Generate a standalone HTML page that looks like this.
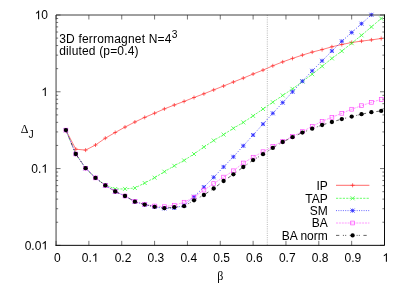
<!DOCTYPE html><html><head><meta charset="utf-8"><style>html,body{margin:0;padding:0;background:#fff}svg{display:block;will-change:transform;opacity:0.999}text{font-family:"Liberation Sans",sans-serif;font-size:12px;fill:#000}</style></head><body>
<svg width="407" height="285" viewBox="0 0 407 285">
<rect width="407" height="285" fill="#fff"/>
<defs><clipPath id="c"><rect x="56.05" y="14.5" width="328.45" height="230.85"/></clipPath></defs>
<line x1="267.3" y1="15.0" x2="267.3" y2="245.35" stroke="#888" stroke-width="0.6" stroke-dasharray="1 1.2"/>
<path d="M56.05,245.35v-4.5M56.05,15.0v4.5 M88.89,245.35v-4.5M88.89,15.0v4.5 M121.74,245.35v-4.5M121.74,15.0v4.5 M154.58,245.35v-4.5M154.58,15.0v4.5 M187.43,245.35v-4.5M187.43,15.0v4.5 M220.27,245.35v-4.5M220.27,15.0v4.5 M253.12,245.35v-4.5M253.12,15.0v4.5 M285.96,245.35v-4.5M285.96,15.0v4.5 M318.81,245.35v-4.5M318.81,15.0v4.5 M351.66,245.35v-4.5M351.66,15.0v4.5 M384.50,245.35v-4.5M384.50,15.0v4.5 M56.05,245.35h4.5M384.5,245.35h-4.5 M56.05,222.24h2.1M384.5,222.24h-2.1 M56.05,208.72h2.1M384.5,208.72h-2.1 M56.05,199.12h2.1M384.5,199.12h-2.1 M56.05,191.68h2.1M384.5,191.68h-2.1 M56.05,185.60h2.1M384.5,185.60h-2.1 M56.05,180.46h2.1M384.5,180.46h-2.1 M56.05,176.01h2.1M384.5,176.01h-2.1 M56.05,172.08h2.1M384.5,172.08h-2.1 M56.05,168.57h4.5M384.5,168.57h-4.5 M56.05,145.45h2.1M384.5,145.45h-2.1 M56.05,131.93h2.1M384.5,131.93h-2.1 M56.05,122.34h2.1M384.5,122.34h-2.1 M56.05,114.90h2.1M384.5,114.90h-2.1 M56.05,108.82h2.1M384.5,108.82h-2.1 M56.05,103.68h2.1M384.5,103.68h-2.1 M56.05,99.22h2.1M384.5,99.22h-2.1 M56.05,95.30h2.1M384.5,95.30h-2.1 M56.05,91.78h4.5M384.5,91.78h-4.5 M56.05,68.67h2.1M384.5,68.67h-2.1 M56.05,55.15h2.1M384.5,55.15h-2.1 M56.05,45.56h2.1M384.5,45.56h-2.1 M56.05,38.11h2.1M384.5,38.11h-2.1 M56.05,32.03h2.1M384.5,32.03h-2.1 M56.05,26.89h2.1M384.5,26.89h-2.1 M56.05,22.44h2.1M384.5,22.44h-2.1 M56.05,18.51h2.1M384.5,18.51h-2.1 M56.05,15.00h4.5M384.5,15.00h-4.5" stroke="#2a2a2a" stroke-width="0.65" fill="none"/>
<polyline clip-path="url(#c)" fill="none" points="65.9,130.2 75.8,149.2 85.6,150.1 95.5,145.0 105.3,138.2 115.2,132.5 125.0,127.1 134.9,122.0 144.7,117.4 154.6,113.2 164.4,108.9 174.3,105.0 184.1,101.4 194.0,97.5 203.9,93.8 213.7,89.9 223.6,86.0 233.4,82.0 243.3,78.1 253.1,74.0 263.0,70.1 272.8,65.8 282.7,61.9 292.5,58.4 302.4,55.1 312.2,52.1 322.1,49.6 331.9,46.8 341.8,44.5 351.7,42.5 361.5,41.1 371.4,39.9 381.2,38.5" stroke="#ff2a2a" stroke-width="0.62"/>
<path d="M63.9,130.2h4.0M65.9,128.2v4.0 M73.8,149.2h4.0M75.8,147.2v4.0 M83.6,150.1h4.0M85.6,148.1v4.0 M93.5,145.0h4.0M95.5,143.0v4.0 M103.3,138.2h4.0M105.3,136.2v4.0 M113.2,132.5h4.0M115.2,130.5v4.0 M123.0,127.1h4.0M125.0,125.1v4.0 M132.9,122.0h4.0M134.9,120.0v4.0 M142.7,117.4h4.0M144.7,115.4v4.0 M152.6,113.2h4.0M154.6,111.2v4.0 M162.4,108.9h4.0M164.4,106.9v4.0 M172.3,105.0h4.0M174.3,103.0v4.0 M182.1,101.4h4.0M184.1,99.4v4.0 M192.0,97.5h4.0M194.0,95.5v4.0 M201.9,93.8h4.0M203.9,91.8v4.0 M211.7,89.9h4.0M213.7,87.9v4.0 M221.6,86.0h4.0M223.6,84.0v4.0 M231.4,82.0h4.0M233.4,80.0v4.0 M241.3,78.1h4.0M243.3,76.1v4.0 M251.1,74.0h4.0M253.1,72.0v4.0 M261.0,70.1h4.0M263.0,68.1v4.0 M270.8,65.8h4.0M272.8,63.8v4.0 M280.7,61.9h4.0M282.7,59.9v4.0 M290.5,58.4h4.0M292.5,56.4v4.0 M300.4,55.1h4.0M302.4,53.1v4.0 M310.2,52.1h4.0M312.2,50.1v4.0 M320.1,49.6h4.0M322.1,47.6v4.0 M329.9,46.8h4.0M331.9,44.8v4.0 M339.8,44.5h4.0M341.8,42.5v4.0 M349.7,42.5h4.0M351.7,40.5v4.0 M359.5,41.1h4.0M361.5,39.1v4.0 M369.4,39.9h4.0M371.4,37.9v4.0 M379.2,38.5h4.0M381.2,36.5v4.0" stroke="#ff2a2a" stroke-width="0.7" fill="none"/>
<polyline clip-path="url(#c)" fill="none" points="65.9,130.1 75.8,154.0 85.6,168.2 95.5,177.9 105.3,185.0 115.2,189.0 125.0,188.9 134.9,188.0 144.7,183.0 154.6,177.7 164.4,171.7 174.3,165.8 184.1,160.4 194.0,154.0 203.9,147.0 213.7,140.5 223.6,134.6 233.4,128.3 243.3,122.4 253.1,115.9 263.0,109.0 272.8,102.2 282.7,95.4 292.5,88.9 302.4,81.5 312.2,74.2 322.1,66.3 331.9,58.4 341.8,51.1 351.7,43.2 361.5,35.3 371.4,26.9 381.2,18.5" stroke="#2aff2a" stroke-width="0.7" stroke-dasharray="2.2 1.2"/>
<path d="M63.9,128.1l4.0,4.0M63.9,132.1l4.0,-4.0 M73.8,152.0l4.0,4.0M73.8,156.0l4.0,-4.0 M83.6,166.2l4.0,4.0M83.6,170.2l4.0,-4.0 M93.5,175.9l4.0,4.0M93.5,179.9l4.0,-4.0 M103.3,183.0l4.0,4.0M103.3,187.0l4.0,-4.0 M113.2,187.0l4.0,4.0M113.2,191.0l4.0,-4.0 M123.0,186.9l4.0,4.0M123.0,190.9l4.0,-4.0 M132.9,186.0l4.0,4.0M132.9,190.0l4.0,-4.0 M142.7,181.0l4.0,4.0M142.7,185.0l4.0,-4.0 M152.6,175.7l4.0,4.0M152.6,179.7l4.0,-4.0 M162.4,169.7l4.0,4.0M162.4,173.7l4.0,-4.0 M172.3,163.8l4.0,4.0M172.3,167.8l4.0,-4.0 M182.1,158.4l4.0,4.0M182.1,162.4l4.0,-4.0 M192.0,152.0l4.0,4.0M192.0,156.0l4.0,-4.0 M201.9,145.0l4.0,4.0M201.9,149.0l4.0,-4.0 M211.7,138.5l4.0,4.0M211.7,142.5l4.0,-4.0 M221.6,132.6l4.0,4.0M221.6,136.6l4.0,-4.0 M231.4,126.3l4.0,4.0M231.4,130.3l4.0,-4.0 M241.3,120.4l4.0,4.0M241.3,124.4l4.0,-4.0 M251.1,113.9l4.0,4.0M251.1,117.9l4.0,-4.0 M261.0,107.0l4.0,4.0M261.0,111.0l4.0,-4.0 M270.8,100.2l4.0,4.0M270.8,104.2l4.0,-4.0 M280.7,93.4l4.0,4.0M280.7,97.4l4.0,-4.0 M290.5,86.9l4.0,4.0M290.5,90.9l4.0,-4.0 M300.4,79.5l4.0,4.0M300.4,83.5l4.0,-4.0 M310.2,72.2l4.0,4.0M310.2,76.2l4.0,-4.0 M320.1,64.3l4.0,4.0M320.1,68.3l4.0,-4.0 M329.9,56.4l4.0,4.0M329.9,60.4l4.0,-4.0 M339.8,49.1l4.0,4.0M339.8,53.1l4.0,-4.0 M349.7,41.2l4.0,4.0M349.7,45.2l4.0,-4.0 M359.5,33.3l4.0,4.0M359.5,37.3l4.0,-4.0 M369.4,24.9l4.0,4.0M369.4,28.9l4.0,-4.0 M379.2,16.5l4.0,4.0M379.2,20.5l4.0,-4.0" stroke="#2aff2a" stroke-width="0.7" fill="none"/>
<polyline clip-path="url(#c)" fill="none" points="65.9,130.1 75.8,154.0 85.6,168.2 95.5,177.9 105.3,185.4 115.2,191.5 125.0,196.0 134.9,201.7 144.7,204.6 154.6,206.8 164.4,208.4 174.3,208.0 184.1,205.4 194.0,196.7 203.9,187.1 213.7,177.3 223.6,166.9 233.4,156.8 243.3,145.8 253.1,135.0 263.0,124.1 272.8,113.3 282.7,102.6 292.5,91.8 302.4,81.2 312.2,70.8 322.1,60.8 331.9,51.0 341.8,41.3 351.7,32.5 361.5,23.7 371.4,14.8 381.2,5.0" stroke="#2020ff" stroke-width="0.75" stroke-dasharray="1.1 1.8"/>
<path d="M63.9,130.1h4.0M65.9,128.1v4.0M63.9,128.1l4.0,4.0M63.9,132.1l4.0,-4.0 M73.8,154.0h4.0M75.8,152.0v4.0M73.8,152.0l4.0,4.0M73.8,156.0l4.0,-4.0 M83.6,168.2h4.0M85.6,166.2v4.0M83.6,166.2l4.0,4.0M83.6,170.2l4.0,-4.0 M93.5,177.9h4.0M95.5,175.9v4.0M93.5,175.9l4.0,4.0M93.5,179.9l4.0,-4.0 M103.3,185.4h4.0M105.3,183.4v4.0M103.3,183.4l4.0,4.0M103.3,187.4l4.0,-4.0 M113.2,191.5h4.0M115.2,189.5v4.0M113.2,189.5l4.0,4.0M113.2,193.5l4.0,-4.0 M123.0,196.0h4.0M125.0,194.0v4.0M123.0,194.0l4.0,4.0M123.0,198.0l4.0,-4.0 M132.9,201.7h4.0M134.9,199.7v4.0M132.9,199.7l4.0,4.0M132.9,203.7l4.0,-4.0 M142.7,204.6h4.0M144.7,202.6v4.0M142.7,202.6l4.0,4.0M142.7,206.6l4.0,-4.0 M152.6,206.8h4.0M154.6,204.8v4.0M152.6,204.8l4.0,4.0M152.6,208.8l4.0,-4.0 M162.4,208.4h4.0M164.4,206.4v4.0M162.4,206.4l4.0,4.0M162.4,210.4l4.0,-4.0 M172.3,208.0h4.0M174.3,206.0v4.0M172.3,206.0l4.0,4.0M172.3,210.0l4.0,-4.0 M182.1,205.4h4.0M184.1,203.4v4.0M182.1,203.4l4.0,4.0M182.1,207.4l4.0,-4.0 M192.0,196.7h4.0M194.0,194.7v4.0M192.0,194.7l4.0,4.0M192.0,198.7l4.0,-4.0 M201.9,187.1h4.0M203.9,185.1v4.0M201.9,185.1l4.0,4.0M201.9,189.1l4.0,-4.0 M211.7,177.3h4.0M213.7,175.3v4.0M211.7,175.3l4.0,4.0M211.7,179.3l4.0,-4.0 M221.6,166.9h4.0M223.6,164.9v4.0M221.6,164.9l4.0,4.0M221.6,168.9l4.0,-4.0 M231.4,156.8h4.0M233.4,154.8v4.0M231.4,154.8l4.0,4.0M231.4,158.8l4.0,-4.0 M241.3,145.8h4.0M243.3,143.8v4.0M241.3,143.8l4.0,4.0M241.3,147.8l4.0,-4.0 M251.1,135.0h4.0M253.1,133.0v4.0M251.1,133.0l4.0,4.0M251.1,137.0l4.0,-4.0 M261.0,124.1h4.0M263.0,122.1v4.0M261.0,122.1l4.0,4.0M261.0,126.1l4.0,-4.0 M270.8,113.3h4.0M272.8,111.3v4.0M270.8,111.3l4.0,4.0M270.8,115.3l4.0,-4.0 M280.7,102.6h4.0M282.7,100.6v4.0M280.7,100.6l4.0,4.0M280.7,104.6l4.0,-4.0 M290.5,91.8h4.0M292.5,89.8v4.0M290.5,89.8l4.0,4.0M290.5,93.8l4.0,-4.0 M300.4,81.2h4.0M302.4,79.2v4.0M300.4,79.2l4.0,4.0M300.4,83.2l4.0,-4.0 M310.2,70.8h4.0M312.2,68.8v4.0M310.2,68.8l4.0,4.0M310.2,72.8l4.0,-4.0 M320.1,60.8h4.0M322.1,58.8v4.0M320.1,58.8l4.0,4.0M320.1,62.8l4.0,-4.0 M329.9,51.0h4.0M331.9,49.0v4.0M329.9,49.0l4.0,4.0M329.9,53.0l4.0,-4.0 M339.8,41.3h4.0M341.8,39.3v4.0M339.8,39.3l4.0,4.0M339.8,43.3l4.0,-4.0 M349.7,32.5h4.0M351.7,30.5v4.0M349.7,30.5l4.0,4.0M349.7,34.5l4.0,-4.0 M359.5,23.7h4.0M361.5,21.7v4.0M359.5,21.7l4.0,4.0M359.5,25.7l4.0,-4.0 M369.4,14.8h4.0M371.4,12.8v4.0M369.4,12.8l4.0,4.0M369.4,16.8l4.0,-4.0" stroke="#2a2aff" stroke-width="0.8" fill="none"/>
<polyline clip-path="url(#c)" fill="none" points="65.9,130.1 75.8,154.0 85.6,168.2 95.5,177.9 105.3,185.4 115.2,191.5 125.0,196.0 134.9,201.5 144.7,204.3 154.6,206.0 164.4,206.7 174.3,205.2 184.1,202.2 194.0,197.3 203.9,190.1 213.7,183.6 223.6,177.1 233.4,170.8 243.3,163.0 253.1,157.2 263.0,151.7 272.8,146.3 282.7,141.3 292.5,136.5 302.4,131.6 312.2,126.3 322.1,121.3 331.9,117.3 341.8,113.3 351.7,109.2 361.5,105.7 371.4,102.3 381.2,99.4" stroke="#ff40ff" stroke-width="0.55" stroke-dasharray="2 0.9"/>
<rect x="64.0" y="128.2" width="3.8" height="3.8" stroke="#ff40ff" stroke-width="0.65" fill="none"/>
<rect x="73.9" y="152.1" width="3.8" height="3.8" stroke="#ff40ff" stroke-width="0.65" fill="none"/>
<rect x="83.7" y="166.3" width="3.8" height="3.8" stroke="#ff40ff" stroke-width="0.65" fill="none"/>
<rect x="93.6" y="176.0" width="3.8" height="3.8" stroke="#ff40ff" stroke-width="0.65" fill="none"/>
<rect x="103.4" y="183.5" width="3.8" height="3.8" stroke="#ff40ff" stroke-width="0.65" fill="none"/>
<rect x="113.3" y="189.6" width="3.8" height="3.8" stroke="#ff40ff" stroke-width="0.65" fill="none"/>
<rect x="123.1" y="194.1" width="3.8" height="3.8" stroke="#ff40ff" stroke-width="0.65" fill="none"/>
<rect x="133.0" y="199.6" width="3.8" height="3.8" stroke="#ff40ff" stroke-width="0.65" fill="none"/>
<rect x="142.8" y="202.4" width="3.8" height="3.8" stroke="#ff40ff" stroke-width="0.65" fill="none"/>
<rect x="152.7" y="204.1" width="3.8" height="3.8" stroke="#ff40ff" stroke-width="0.65" fill="none"/>
<rect x="162.5" y="204.8" width="3.8" height="3.8" stroke="#ff40ff" stroke-width="0.65" fill="none"/>
<rect x="172.4" y="203.3" width="3.8" height="3.8" stroke="#ff40ff" stroke-width="0.65" fill="none"/>
<rect x="182.2" y="200.3" width="3.8" height="3.8" stroke="#ff40ff" stroke-width="0.65" fill="none"/>
<rect x="192.1" y="195.4" width="3.8" height="3.8" stroke="#ff40ff" stroke-width="0.65" fill="none"/>
<rect x="202.0" y="188.2" width="3.8" height="3.8" stroke="#ff40ff" stroke-width="0.65" fill="none"/>
<rect x="211.8" y="181.7" width="3.8" height="3.8" stroke="#ff40ff" stroke-width="0.65" fill="none"/>
<rect x="221.7" y="175.2" width="3.8" height="3.8" stroke="#ff40ff" stroke-width="0.65" fill="none"/>
<rect x="231.5" y="168.9" width="3.8" height="3.8" stroke="#ff40ff" stroke-width="0.65" fill="none"/>
<rect x="241.4" y="161.1" width="3.8" height="3.8" stroke="#ff40ff" stroke-width="0.65" fill="none"/>
<rect x="251.2" y="155.3" width="3.8" height="3.8" stroke="#ff40ff" stroke-width="0.65" fill="none"/>
<rect x="261.1" y="149.8" width="3.8" height="3.8" stroke="#ff40ff" stroke-width="0.65" fill="none"/>
<rect x="270.9" y="144.4" width="3.8" height="3.8" stroke="#ff40ff" stroke-width="0.65" fill="none"/>
<rect x="280.8" y="139.4" width="3.8" height="3.8" stroke="#ff40ff" stroke-width="0.65" fill="none"/>
<rect x="290.6" y="134.6" width="3.8" height="3.8" stroke="#ff40ff" stroke-width="0.65" fill="none"/>
<rect x="300.5" y="129.7" width="3.8" height="3.8" stroke="#ff40ff" stroke-width="0.65" fill="none"/>
<rect x="310.3" y="124.4" width="3.8" height="3.8" stroke="#ff40ff" stroke-width="0.65" fill="none"/>
<rect x="320.2" y="119.4" width="3.8" height="3.8" stroke="#ff40ff" stroke-width="0.65" fill="none"/>
<rect x="330.0" y="115.4" width="3.8" height="3.8" stroke="#ff40ff" stroke-width="0.65" fill="none"/>
<rect x="339.9" y="111.4" width="3.8" height="3.8" stroke="#ff40ff" stroke-width="0.65" fill="none"/>
<rect x="349.8" y="107.3" width="3.8" height="3.8" stroke="#ff40ff" stroke-width="0.65" fill="none"/>
<rect x="359.6" y="103.8" width="3.8" height="3.8" stroke="#ff40ff" stroke-width="0.65" fill="none"/>
<rect x="369.5" y="100.4" width="3.8" height="3.8" stroke="#ff40ff" stroke-width="0.65" fill="none"/>
<rect x="379.3" y="97.5" width="3.8" height="3.8" stroke="#ff40ff" stroke-width="0.65" fill="none"/>
<polyline clip-path="url(#c)" fill="none" points="65.9,130.1 75.8,154.0 85.6,168.2 95.5,177.9 105.3,185.4 115.2,191.5 125.0,196.0 134.9,201.7 144.7,204.6 154.6,206.8 164.4,208.2 174.3,207.2 184.1,206.2 194.0,200.3 203.9,195.0 213.7,188.5 223.6,181.0 233.4,174.3 243.3,167.0 253.1,160.1 263.0,154.2 272.8,147.9 282.7,142.0 292.5,137.2 302.4,132.6 312.2,128.7 322.1,125.0 331.9,122.0 341.8,119.1 351.7,116.6 361.5,114.2 371.4,112.2 381.2,110.9" stroke="#222" stroke-width="0.7" stroke-dasharray="3.3 3.6 1.1 1.1 1.1 3.5"/>
<circle cx="65.9" cy="130.1" r="2.15" fill="#000"/>
<circle cx="75.8" cy="154.0" r="2.15" fill="#000"/>
<circle cx="85.6" cy="168.2" r="2.15" fill="#000"/>
<circle cx="95.5" cy="177.9" r="2.15" fill="#000"/>
<circle cx="105.3" cy="185.4" r="2.15" fill="#000"/>
<circle cx="115.2" cy="191.5" r="2.15" fill="#000"/>
<circle cx="125.0" cy="196.0" r="2.15" fill="#000"/>
<circle cx="134.9" cy="201.7" r="2.15" fill="#000"/>
<circle cx="144.7" cy="204.6" r="2.15" fill="#000"/>
<circle cx="154.6" cy="206.8" r="2.15" fill="#000"/>
<circle cx="164.4" cy="208.2" r="2.15" fill="#000"/>
<circle cx="174.3" cy="207.2" r="2.15" fill="#000"/>
<circle cx="184.1" cy="206.2" r="2.15" fill="#000"/>
<circle cx="194.0" cy="200.3" r="2.15" fill="#000"/>
<circle cx="203.9" cy="195.0" r="2.15" fill="#000"/>
<circle cx="213.7" cy="188.5" r="2.15" fill="#000"/>
<circle cx="223.6" cy="181.0" r="2.15" fill="#000"/>
<circle cx="233.4" cy="174.3" r="2.15" fill="#000"/>
<circle cx="243.3" cy="167.0" r="2.15" fill="#000"/>
<circle cx="253.1" cy="160.1" r="2.15" fill="#000"/>
<circle cx="263.0" cy="154.2" r="2.15" fill="#000"/>
<circle cx="272.8" cy="147.9" r="2.15" fill="#000"/>
<circle cx="282.7" cy="142.0" r="2.15" fill="#000"/>
<circle cx="292.5" cy="137.2" r="2.15" fill="#000"/>
<circle cx="302.4" cy="132.6" r="2.15" fill="#000"/>
<circle cx="312.2" cy="128.7" r="2.15" fill="#000"/>
<circle cx="322.1" cy="125.0" r="2.15" fill="#000"/>
<circle cx="331.9" cy="122.0" r="2.15" fill="#000"/>
<circle cx="341.8" cy="119.1" r="2.15" fill="#000"/>
<circle cx="351.7" cy="116.6" r="2.15" fill="#000"/>
<circle cx="361.5" cy="114.2" r="2.15" fill="#000"/>
<circle cx="371.4" cy="112.2" r="2.15" fill="#000"/>
<circle cx="381.2" cy="110.9" r="2.15" fill="#000"/>
<path d="M56.05,245.35V15.0H384.5" fill="none" stroke="#2a2a2a" stroke-width="0.9" stroke-linecap="square"/>
<path d="M384.5,15.0V245.35H56.05" fill="none" stroke="#0a0a0a" stroke-width="1" stroke-linecap="square"/>
<path transform="translate(34.66,19.25) scale(0.012)" d="M372.6,0H284.7V-560.1Q252.9,-529.8 201.4,-499.5Q149.9,-469.2 108.9,-454.1V-539.1Q182.6,-573.7 237.8,-623Q293,-672.4 315.9,-718.8H372.6Z" fill="#000"/>
<text x="41.33" y="19.25">0</text>
<path transform="translate(41.33,96.03) scale(0.012)" d="M372.6,0H284.7V-560.1Q252.9,-529.8 201.4,-499.5Q149.9,-469.2 108.9,-454.1V-539.1Q182.6,-573.7 237.8,-623Q293,-672.4 315.9,-718.8H372.6Z" fill="#000"/>
<text x="31.32" y="172.82">0</text>
<text x="37.99" y="172.82">.</text>
<path transform="translate(41.33,172.82) scale(0.012)" d="M372.6,0H284.7V-560.1Q252.9,-529.8 201.4,-499.5Q149.9,-469.2 108.9,-454.1V-539.1Q182.6,-573.7 237.8,-623Q293,-672.4 315.9,-718.8H372.6Z" fill="#000"/>
<text x="24.65" y="249.60">0</text>
<text x="31.32" y="249.60">.</text>
<text x="34.66" y="249.60">0</text>
<path transform="translate(41.33,249.60) scale(0.012)" d="M372.6,0H284.7V-560.1Q252.9,-529.8 201.4,-499.5Q149.9,-469.2 108.9,-454.1V-539.1Q182.6,-573.7 237.8,-623Q293,-672.4 315.9,-718.8H372.6Z" fill="#000"/>
<text x="54.01" y="261.80">0</text>
<text x="81.85" y="261.80">0</text>
<text x="88.53" y="261.80">.</text>
<path transform="translate(91.86,261.80) scale(0.012)" d="M372.6,0H284.7V-560.1Q252.9,-529.8 201.4,-499.5Q149.9,-469.2 108.9,-454.1V-539.1Q182.6,-573.7 237.8,-623Q293,-672.4 315.9,-718.8H372.6Z" fill="#000"/>
<text x="114.70" y="261.80">0</text>
<text x="121.37" y="261.80">.</text>
<text x="124.71" y="261.80">2</text>
<text x="147.54" y="261.80">0</text>
<text x="154.22" y="261.80">.</text>
<text x="157.55" y="261.80">3</text>
<text x="180.39" y="261.80">0</text>
<text x="187.06" y="261.80">.</text>
<text x="190.40" y="261.80">4</text>
<text x="213.23" y="261.80">0</text>
<text x="219.91" y="261.80">.</text>
<text x="223.24" y="261.80">5</text>
<text x="246.08" y="261.80">0</text>
<text x="252.75" y="261.80">.</text>
<text x="256.09" y="261.80">6</text>
<text x="278.93" y="261.80">0</text>
<text x="285.60" y="261.80">.</text>
<text x="288.93" y="261.80">7</text>
<text x="311.77" y="261.80">0</text>
<text x="318.44" y="261.80">.</text>
<text x="321.78" y="261.80">8</text>
<text x="344.62" y="261.80">0</text>
<text x="351.29" y="261.80">.</text>
<text x="354.62" y="261.80">9</text>
<path transform="translate(382.46,261.80) scale(0.012)" d="M372.6,0H284.7V-560.1Q252.9,-529.8 201.4,-499.5Q149.9,-469.2 108.9,-454.1V-539.1Q182.6,-573.7 237.8,-623Q293,-672.4 315.9,-718.8H372.6Z" fill="#000"/>
<text x="220.2" y="279.7" text-anchor="middle" style="font-family:'Liberation Serif',serif">β</text>
<text x="20.7" y="133.4"><tspan style="font-family:'Liberation Serif',serif">Δ</tspan><tspan font-size="10.3" dy="4.2" dx="0.1">J</tspan></text>
<text x="59.2" y="43.4" textLength="112.3">3D ferromagnet N=4</text><text x="171.8" y="38.1" style="font-size:10.2px">3</text>
<text x="59.2" y="54.6" textLength="79.3">diluted (p=0.4)</text>
<text x="327.8" y="189.6" text-anchor="end">IP</text>
<text x="327.8" y="202.6" text-anchor="end">TAP</text>
<text x="327.8" y="214.9" text-anchor="end">SM</text>
<text x="327.8" y="227.3" text-anchor="end">BA</text>
<text x="327.8" y="239.7" text-anchor="end">BA norm</text>
<path d="M336.0,185.3H369.4 M350.6,185.3h4.0M352.6,183.3v4.0" stroke="#ff2a2a" stroke-width="0.7" fill="none"/>
<path d="M336.0,198.3H369.4" stroke="#2aff2a" stroke-width="0.7" stroke-dasharray="2.2 1.2" fill="none"/><path d="M350.6,196.3l4.0,4.0M350.6,200.3l4.0,-4.0" stroke="#2aff2a" stroke-width="0.7" fill="none"/>
<path d="M336.0,210.6H369.4" stroke="#2a2aff" stroke-width="0.7" stroke-dasharray="1 1.3" fill="none"/><path d="M350.6,210.6h4.0M352.6,208.6v4.0M350.6,208.6l4.0,4.0M350.6,212.6l4.0,-4.0" stroke="#2a2aff" stroke-width="0.8" fill="none"/>
<path d="M336.0,223.0H369.4" stroke="#ff48ff" stroke-width="0.55" stroke-dasharray="2 0.9" fill="none"/><rect x="350.70000000000005" y="221.1" width="3.8" height="3.8" stroke="#ff40ff" stroke-width="0.65" fill="none"/>
<path d="M336.0,235.4H369.4" stroke="#222" stroke-width="0.7" stroke-dasharray="3.3 3.6 1.1 1.1 1.1 3.5" fill="none"/><circle cx="352.6" cy="235.4" r="2.15" fill="#000"/>
</svg></body></html>
